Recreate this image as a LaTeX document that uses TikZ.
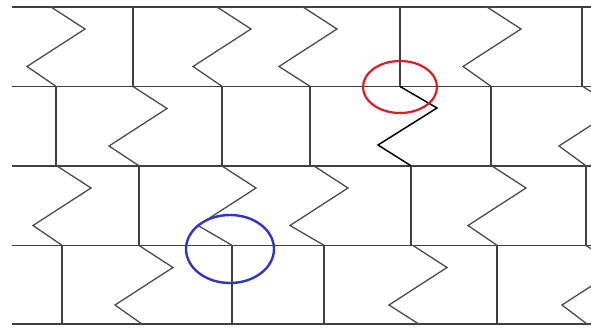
\documentclass[tikz,border=0pt]{standalone}
\usepackage{tikz}
\usetikzlibrary{calc}

\begin{document}
\begin{tikzpicture}[
  x=1pt, y=-1pt,
  course/.style={draw=black!75, line width=1.6pt},
  zig/.style={draw=black!70, line width=1.3pt, line join=miter},
  zighi/.style={draw=black, line width=1.5pt, line join=miter},
  perp/.style={draw=black!75, line width=1.3pt},
  ringred/.style={draw={rgb,255:red,222;green,28;blue,40}, line width=2.2pt},
  ringblue/.style={draw={rgb,255:red,50;green,52;blue,200}, line width=2.4pt},
]
  % Frame of the picture: 1 unit = 1 pixel of the reference
  \useasboundingbox (0,0) rectangle (591,328);
  \clip (0,0) rectangle (591,328);
  \fill[white] (0,0) rectangle (591,328);

  % Row height
  \def\rh{79.3}

  % Horizontal courses
  \foreach \y in {7, 86.5, 166, 245.5, 324}
    \draw[course] (12,\y) -- (591,\y);

  % Vertical joints (x, top y)
  \foreach \x/\y in {%
    133/7, 400/7, 582/7,%
    56/86.5, 222/86.5, 310/86.5, 491/86.5,%
    139/166, 411/166, 586/166,%
    62/245.5, 232/245.5, 324/245.5, 497/245.5%
  }{
    \draw[perp] (\x,\y) -- (\x,\y+\rh);
  }

  % Zigzag joints (top x, top y, bottom x)
  \foreach \t/\y/\b in {%
    51/7/56, 217/7/222, 303/7/310, 487/7/491,%
    133/86.5/139, 583/86.5/586,%
    57/166/62, 222/166/232, 314/166/324, 492/166/497,%
    139/245.5/143, 413/245.5/420, 586/245.5/588%
  }{
    \draw[zig] (\t,\y) -- (\t+34,\y+22) -- (\t-24,\y+59.5) -- (\b,\y+\rh);
  }

  % Highlighted zigzag below the red ring
  \draw[zighi] (400,86.5) -- (437,108) -- (378,145) -- (411,165.8);

  % Rings
  \draw[ringred] (400,87) ellipse [x radius=37, y radius=26];
  \draw[ringblue] (230,249) ellipse [x radius=44, y radius=34];
\end{tikzpicture}
\end{document}
